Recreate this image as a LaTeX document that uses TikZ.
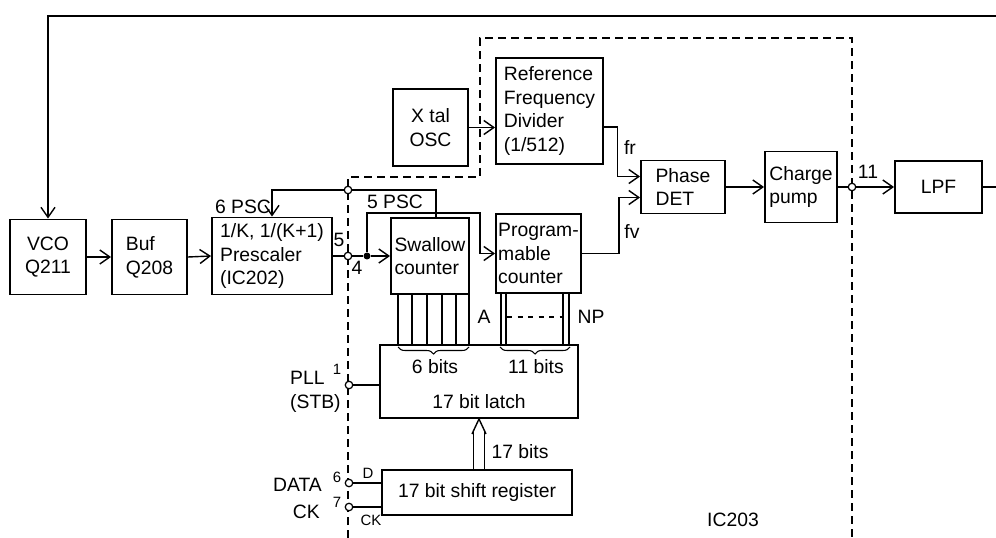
\documentclass[tikz,border=0pt]{standalone}
\usepackage{fontspec}
\setmainfont{Liberation Sans}
\usetikzlibrary{arrows.meta,calc,decorations.pathreplacing}

\begin{document}
\begin{tikzpicture}[x=0.2mm, y=-0.2mm, >={Straight Barb[length=2mm,width=2.8mm]},
    every node/.style={font=\fontsize{11}{13.5}\selectfont},
    blk/.style={draw, line width=1.1pt, inner sep=1pt, align=center},
    pin/.style={circle, draw, fill=white, line width=0.7pt, inner sep=0pt, minimum size=1.5mm},
    dot/.style={circle, fill, inner sep=0pt, minimum size=1.4mm},
    wire/.style={line width=0.8pt},
    bus/.style={line width=0.6pt},
    small/.style={font=\fontsize{8.5}{10}\selectfont}]
    \useasboundingbox (0,0) rectangle (996,538);
    % IC203 boundary
    \draw[dash pattern=on 1.6mm off 1mm, line width=0.7pt] (348,538) -- (348,177) -- (480,177) -- (480,38) -- (852,38) -- (852,538);
    % blocks
    \node[blk, minimum width=15.2mm, minimum height=15mm] (vco) at (48,257) {VCO\\Q211};
    \node[blk, align=left, minimum width=15mm, minimum height=15mm] (buf) at (149.5,257) {Buf\\Q208};
    \node[blk, align=left, minimum width=24mm, minimum height=15.4mm] (pre) at (272,256) {1/K, 1/(K+1)\\Prescaler\\(IC202)};
    \node[blk, minimum width=15mm, minimum height=15.4mm] (xtal) at (430.5,127.5) {X tal\\OSC};
    \node[blk, align=left, minimum width=21.4mm, minimum height=21.2mm] (ref) at (549.5,111) {Reference\\Frequency\\Divider\\(1/512)};
    \node[blk, align=left, minimum width=15.6mm, minimum height=15.2mm] (swal) at (430,256) {Swallow\\counter};
    \node[blk, align=left, minimum width=17mm, minimum height=15.8mm] (prog) at (538.5,253.5) {Program-\\mable\\counter};
    \node[blk, align=left, minimum width=16.8mm, minimum height=10.6mm] (pd) at (683,187) {Phase\\DET};
    \node[blk, align=left, minimum width=14.4mm, minimum height=14.2mm] (cp) at (801,187) {Charge\\pump};
    \node[blk, minimum width=17.4mm, minimum height=10.4mm] (lpf) at (938.5,187) {LPF};
    \node[blk, minimum width=39.6mm, minimum height=14.6mm] (latch) at (479,381.5) {};
    \node[blk, minimum width=38mm, minimum height=9mm] (sreg) at (477,492.5) {17 bit shift register};
    % pins
    \node[pin] (p5) at (348,190) {};
    \node[pin] (p4) at (348,256) {};
    \node[pin] (p11) at (852,187) {};
    \node[pin] (p1) at (349,385) {};
    \node[pin] (p6) at (349,483) {};
    \node[pin] (p7) at (349,507) {};
    \node[dot] (j1) at (367,256) {};
    \coordinate (mc) at (480,213);
    \coordinate (fb) at (996,16);
    \coordinate (out) at (996,187);
    % signal path
    \draw[wire,->] (fb) -| (vco.north);
    \draw[wire,->] (vco.east) -- (buf.west);
    \draw[wire,->] (buf.east) -- (pre.west);
    \draw[wire] (pre.east) -- (p4);
    \draw[wire] (p4) -- (j1);
    \draw[wire,->] (j1) -- (swal.west);
    \draw[wire,->] (j1) |- (mc) |- (prog.west);
    \draw[wire] ([xshift=1.2mm]swal.north) |- (p5);
    \draw[wire,->] (p5) -| (pre.north);
    \draw[wire,->] (xtal.east) -- (ref.west |- xtal.east);
    \draw[wire,->] ([yshift=-3.2mm]ref.east) -- ++(13.5,0) |- ([yshift=2.1mm]pd.west);
    \draw[wire,->] (prog.east) -- ++(37,0) |- ([yshift=-2.1mm]pd.west);
    \draw[wire,->] (pd.east) -- (cp.west);
    \draw[wire] (cp.east) -- (p11);
    \draw[wire,->] (p11) -- (lpf.west);
    \draw[wire] (lpf.east) -- (out);
    \draw[wire] (p1) -- (latch.west |- p1);
    \draw[wire] (p6) -- (sreg.west |- p6);
    \draw[wire] (p7) -- (sreg.west |- p7);
    % data buses
    \foreach \x in {398,412,427,442,456,469} {
        \path (\x,0) coordinate (bx);
        \draw[bus] (swal.south -| bx) -- (latch.north -| bx);
    }
    \foreach \x in {501,506,563,569} {
        \path (\x,0) coordinate (bx);
        \draw[bus] (prog.south -| bx) -- (latch.north -| bx);
    }
    \draw[bus, dashed] (507,317) -- (562,317);
    \draw[bus, decorate, decoration={brace, mirror, amplitude=1.4mm}] (398,347) -- (469,347);
    \draw[bus, decorate, decoration={brace, mirror, amplitude=1.4mm}] (500,347) -- (570,347);
    \draw[wire] ($(latch.south)+(-7,15)$) -- (latch.south) -- ($(latch.south)+(7,15)$);
    \draw[wire] ($(latch.south)+(-5.5,12)$) -- ($(latch.south)+(-5.5,52)$);
    \draw[wire] ($(latch.south)+(5.5,12)$) -- ($(latch.south)+(5.5,52)$);
    % labels
    \node (lfr) at (630,148) {fr};
    \node (lfv) at (632,232) {fv};
    \node (l11) at (868,172) {11};
    \node (l5) at (339,240) {5};
    \node (l4) at (357,268) {4};
    \node (l6psc) at (243,207) {6 PSC};
    \node (l5psc) at (395,202) {5 PSC};
    \node (lA) at (484,317) {A};
    \node (lNP) at (591,317) {NP};
    \node (l6b) at (435,367) {6 bits};
    \node (l11b) at (536,367) {11 bits};
    \node (llatch) at (479,402) {17 bit latch};
    \node (l17b) at (520,452) {17 bits};
    \node[small] (n1) at (337,369) {1};
    \node[align=left, anchor=west] (lpll) at (284,392) {PLL\\(STB)};
    \node[small] (n6) at (337,477) {6};
    \node[anchor=east] (ldata) at (328,485) {DATA};
    \node[small] (n7) at (337,502) {7};
    \node[anchor=east] (lck) at (326,512) {CK};
    \node[small] (lD) at (368,473) {D};
    \node[small] (lck2) at (371,520) {CK};
    \node (lic) at (733,520) {IC203};
\end{tikzpicture}
\end{document}
